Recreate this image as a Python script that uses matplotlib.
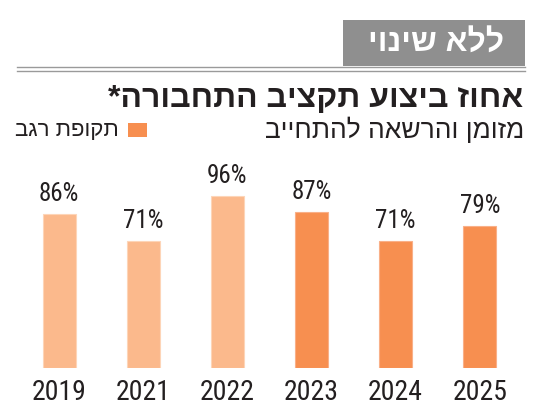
import matplotlib
matplotlib.use("Agg")
import matplotlib.pyplot as plt
from matplotlib import font_manager
from matplotlib.patches import Rectangle
from matplotlib.lines import Line2D

# data
years = ['2019', '2021', '2022', '2023', '2024', '2025']
execution_pct = [86, 71, 96, 87, 71, 79]
regev_term = [False, False, False, True, True, True]

badge_text = 'ללא שינוי'
title_text = 'אחוז ביצוע תקציב התחבורה*'
subtitle_text = 'מזומן והרשאה להתחייב'
legend_text = 'תקופת רגב'

LIGHT = '#fbb98c'
DARK = '#f78f50'
LIGHT_EDGE = '#fdd5b8'
DARK_EDGE = '#f9b088'
GREY = '#8f8f8f'
TEXT = '#231f20'

W, H = 550, 413


def rtl(s):
    # matplotlib has no bidi support: lay Hebrew out visually
    return s[::-1]


def px(x):
    return x / W


def py(y):
    return 1 - y / H


available = {f.name for f in font_manager.fontManager.ttflist}


def pick(cands):
    return [c for c in cands if c in available] + ['DejaVu Sans']


num_fonts = pick(['Liberation Sans Narrow', 'DejaVu Sans Condensed', 'Roboto Condensed', 'Roboto'])
heb_fonts = pick(['Liberation Sans', 'Open Sans', 'Noto Sans Hebrew'])

fig = plt.figure(figsize=(W / 100, H / 100), dpi=100)
fig.patch.set_facecolor('white')

# plot area: baseline at y=368px, 100% = 180px, bar pitch 84px
ax = fig.add_axes([px(17.25), py(368.3), px(504.6), 180 / H])
x = list(range(len(years)))
colors = [DARK if r else LIGHT for r in regev_term]
edges = [DARK_EDGE if r else LIGHT_EDGE for r in regev_term]
bars = ax.bar(x, execution_pct, width=0.39, color=colors, edgecolor=edges, linewidth=0.8)

for b, v in zip(bars, execution_pct):
    ax.annotate(f'{v}%', (b.get_x() + b.get_width() / 2, v),
                xytext=(0, 5.5), textcoords='offset points',
                ha='center', va='bottom', fontsize=18, color=TEXT,
                family=num_fonts)

ax.set_xlim(-0.5, len(years) - 0.5)
ax.set_ylim(0, 100)
ax.set_xticks(x)
ax.set_xticklabels(years, fontsize=20, color=TEXT, family=num_fonts)
ax.tick_params(axis='x', length=0, pad=8)
ax.set_yticks([])
for s in ax.spines.values():
    s.set_visible(False)
ax.patch.set_alpha(0)

# header badge and double rule
fig.add_artist(Rectangle((px(343), py(66)), px(525) - px(343), py(20) - py(66),
                         transform=fig.transFigure, facecolor=GREY, edgecolor='none'))
fig.text(px(436), py(44), rtl(badge_text), ha='center', va='center',
         fontsize=23, fontweight='bold', color='white', family=heb_fonts)
for yy in (66.5, 70.5):
    fig.add_artist(Line2D([px(16.7), px(525)], [py(yy), py(yy)],
                          transform=fig.transFigure, color='#9a9a9a', linewidth=1.0))

# title and legend row
fig.text(px(523), py(99), rtl(title_text), ha='right', va='center',
         fontsize=23, fontweight='bold', color=TEXT, family=heb_fonts)
fig.text(px(524), py(130), rtl(subtitle_text), ha='right', va='center',
         fontsize=19, color=TEXT, family=heb_fonts)
fig.add_artist(Rectangle((px(128), py(137)), px(147) - px(128), py(123) - py(137),
                         transform=fig.transFigure, facecolor=DARK, edgecolor='none'))
fig.text(px(119), py(130), rtl(legend_text), ha='right', va='center',
         fontsize=16, color=TEXT, family=heb_fonts)

fig.savefig('out.png', dpi=100, facecolor='white')
